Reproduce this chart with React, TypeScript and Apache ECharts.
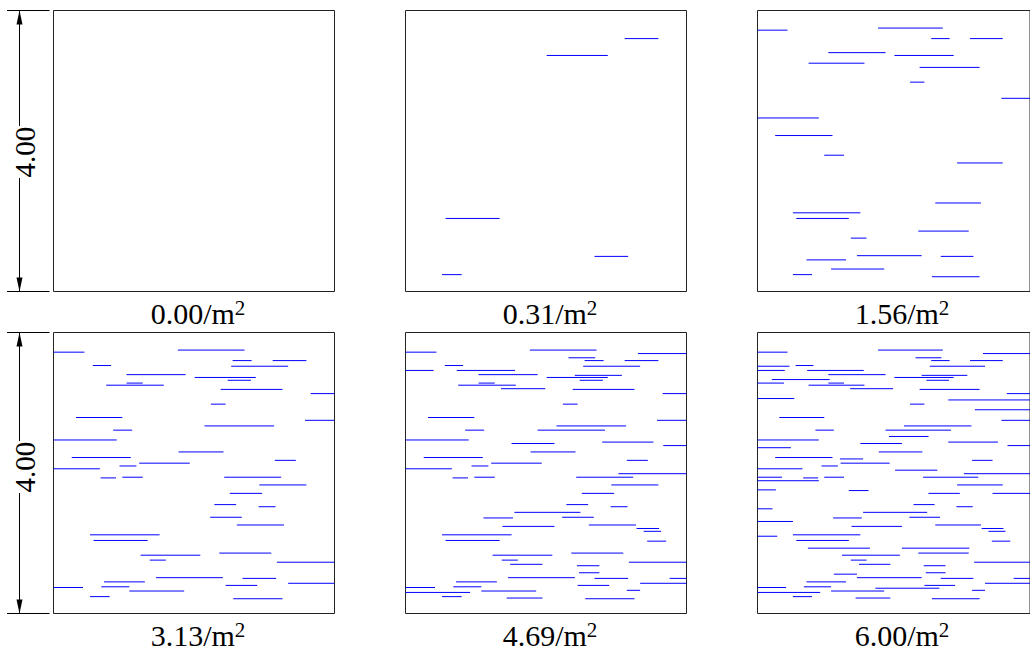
import React, { useEffect, useRef } from 'react';
import * as echarts from 'echarts';

// Fracture density of each panel (per m²) and side length of each 4 m × 4 m window
const densityLabels = ['0.00', '0.31', '1.56', '3.13', '4.69', '6.00'];
const sideLabel = '4.00';
const sideLength = 4;

// Fracture traces: [xStart, xEnd, y] in metres. Each set is added on top of the previous ones.
const set031 = [
  [3.12, 3.60, 3.60], [2.01, 2.88, 3.36], [0.57, 1.34, 1.04], [2.69, 3.17, 0.50], [0.52, 0.80, 0.24],
];
const set156 = [
  [0.00, 0.44, 3.72], [1.77, 2.72, 3.75], [2.55, 2.82, 3.60], [1.04, 1.88, 3.40], [0.75, 1.57, 3.25],
  [2.38, 3.26, 3.19], [2.24, 2.45, 2.98], [3.58, 4.00, 2.75], [0.00, 0.90, 2.47], [0.26, 1.10, 2.22],
  [0.98, 1.27, 1.94], [2.93, 3.60, 1.83], [2.61, 3.28, 1.26], [0.52, 1.51, 1.12], [2.36, 3.10, 0.86],
  [1.37, 1.60, 0.76], [1.46, 2.41, 0.51], [0.72, 1.30, 0.45], [1.08, 1.86, 0.32], [2.56, 3.26, 0.21],
];
const set313 = [
  [0.56, 0.82, 3.53], [2.53, 3.34, 3.52], [2.48, 2.81, 3.32], [1.04, 1.27, 3.28], [3.66, 4.00, 3.13],
  [0.32, 0.98, 2.79], [2.15, 3.14, 2.67], [0.85, 1.12, 2.61], [1.78, 2.42, 2.30], [3.15, 3.45, 2.18],
  [1.22, 1.94, 2.14], [0.94, 1.18, 2.10], [0.00, 0.66, 2.06], [0.67, 0.89, 1.93], [2.43, 3.24, 1.94],
  [2.51, 2.97, 1.71], [2.29, 2.60, 1.55], [2.92, 3.16, 1.52], [2.23, 2.68, 1.37], [1.24, 2.09, 0.83],
  [3.18, 4.00, 0.73], [3.34, 4.00, 0.43], [2.45, 2.90, 0.40], [0.00, 0.42, 0.37], [0.68, 1.08, 0.38],
];
const set469 = [
  [3.31, 4.00, 3.70], [2.32, 2.70, 3.64], [0.00, 0.40, 3.46], [0.73, 1.56, 3.46], [2.41, 3.08, 3.39],
  [1.36, 1.99, 3.20], [1.88, 2.84, 2.61], [2.80, 3.53, 2.44], [1.51, 2.12, 2.42], [3.67, 4.00, 2.39],
  [3.03, 4.00, 1.99], [1.55, 2.49, 1.44], [1.11, 1.53, 1.36], [1.38, 2.12, 1.24], [3.29, 3.61, 1.21],
  [3.39, 3.64, 1.17], [3.44, 3.71, 1.03], [1.49, 1.95, 0.70], [2.44, 2.76, 0.68], [2.47, 2.76, 0.58],
  [3.76, 4.00, 0.50], [3.15, 3.34, 0.33], [0.00, 0.92, 0.30], [1.44, 1.95, 0.22],
];
const set600 = [
  [0.00, 0.47, 3.52], [0.21, 1.06, 3.33], [0.00, 0.39, 3.28], [0.00, 0.54, 3.06], [2.80, 4.00, 3.04],
  [3.19, 4.00, 2.90], [1.93, 2.51, 2.52], [0.00, 0.49, 2.36], [1.21, 1.55, 2.20], [2.02, 2.64, 2.04],
  [0.00, 0.36, 1.94], [0.00, 0.90, 1.89], [0.00, 0.27, 1.76], [1.34, 1.63, 1.75], [3.45, 4.00, 1.71],
  [0.00, 0.22, 1.49], [0.00, 0.52, 1.31], [0.00, 0.29, 1.10], [0.74, 1.65, 0.93], [2.12, 3.11, 0.93],
  [1.12, 1.46, 0.56], [1.73, 2.67, 0.36],
];
const increments = [[], set031, set156, set313, set469, set600];

const FONT = '"Liberation Serif", "Times New Roman", serif';
const colLeft = [53.5, 405.5, 757.5];
const rowTop = [10.5, 332.5];
const dimMid = [152, 467];
const SIZE = 281;

export default function App() {
  const ref = useRef<HTMLDivElement>(null);
  useEffect(() => {
    if (!ref.current) return;
    const chart = echarts.init(ref.current, undefined, { renderer: 'svg' });

    const grids: any[] = [];
    const xAxes: any[] = [];
    const yAxes: any[] = [];
    const series: any[] = [];
    const graphics: any[] = [];

    let cumulative: number[][] = [];
    densityLabels.forEach((lab, i) => {
      cumulative = cumulative.concat(increments[i] as number[][]);
      const r = Math.floor(i / 3);
      const c = i % 3;
      grids.push({
        left: colLeft[c], top: rowTop[r], width: SIZE, height: SIZE,
        show: true, borderColor: '#222', borderWidth: 1, backgroundColor: 'transparent',
      });
      xAxes.push({ gridIndex: i, type: 'value', min: 0, max: sideLength, show: false });
      yAxes.push({ gridIndex: i, type: 'value', min: 0, max: sideLength, show: false });
      series.push({
        type: 'custom',
        xAxisIndex: i, yAxisIndex: i,
        encode: { x: [0, 1], y: 2 },
        data: cumulative.slice(),
        silent: true,
        renderItem: (params: any, api: any) => {
          const p1 = api.coord([api.value(0), api.value(2)]);
          const p2 = api.coord([api.value(1), api.value(2)]);
          return {
            type: 'line',
            shape: { x1: p1[0], y1: p1[1], x2: p2[0], y2: p2[1] },
            style: { stroke: '#0000ff', lineWidth: 1 },
          };
        },
      });
      graphics.push({
        type: 'text',
        x: colLeft[c] + SIZE / 2 + 4,
        y: rowTop[r] + SIZE + 22,
        style: {
          text: `{a|${lab}/m}{b|2}`,
          align: 'center',
          verticalAlign: 'middle',
          rich: {
            a: { fontFamily: FONT, fontSize: 30, lineHeight: 32, fill: '#000' },
            b: { fontFamily: FONT, fontSize: 21, fill: '#000', verticalAlign: 'top' },
          },
        },
      });
    });

    // dimension annotations on the left
    rowTop.forEach((top, r) => {
      const bottom = top + SIZE;
      const mid = dimMid[r];
      const dx = 19.5;
      graphics.push(
        { type: 'line', shape: { x1: 7, y1: top, x2: 49.5, y2: top }, style: { stroke: '#000', lineWidth: 1 } },
        { type: 'line', shape: { x1: 7, y1: bottom, x2: 49.5, y2: bottom }, style: { stroke: '#000', lineWidth: 1 } },
        { type: 'line', shape: { x1: dx, y1: top, x2: dx, y2: mid - 26 }, style: { stroke: '#000', lineWidth: 1 } },
        { type: 'line', shape: { x1: dx, y1: mid + 26, x2: dx, y2: bottom }, style: { stroke: '#000', lineWidth: 1 } },
        { type: 'polygon', shape: { points: [[dx, top], [dx - 3, top + 14], [dx + 3, top + 14]] }, style: { fill: '#000' } },
        { type: 'polygon', shape: { points: [[dx, bottom], [dx - 3, bottom - 14], [dx + 3, bottom - 14]] }, style: { fill: '#000' } },
        {
          type: 'text', x: 25, y: mid, rotation: Math.PI / 2,
          style: { text: sideLabel, fontFamily: FONT, fontSize: 29, fill: '#000', align: 'center', verticalAlign: 'middle' },
        },
      );
    });

    chart.setOption({
      animation: false,
      backgroundColor: '#fff',
      grid: grids,
      xAxis: xAxes,
      yAxis: yAxes,
      series,
      graphic: graphics,
    });
    return () => chart.dispose();
  }, []);

  return <div ref={ref} style={{ position: 'fixed', left: 0, top: 0, width: 1030, height: 654 }} />;
}
